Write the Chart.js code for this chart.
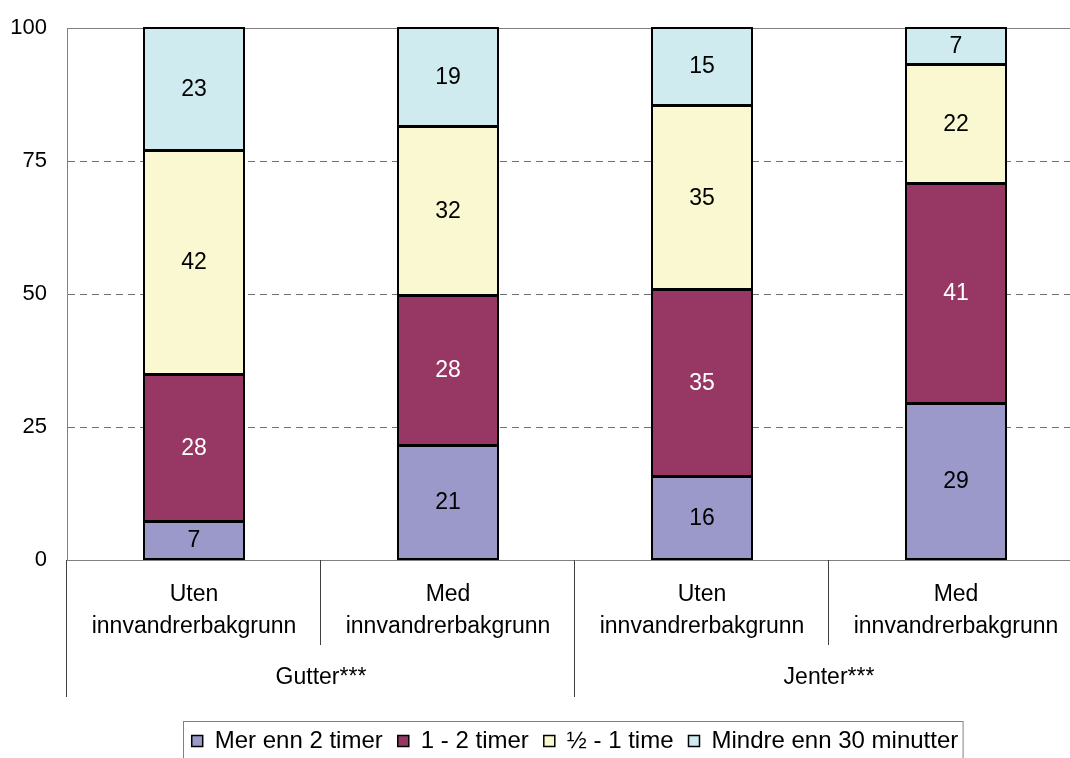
<!DOCTYPE html>
<html>
<head>
<meta charset="utf-8">
<script src="https://cdn.jsdelivr.net/npm/chart.js@4"></script>
<style>
body{margin:0;overflow:hidden;background:#fff;}
#wrap{width:1090px;height:763px;}
</style>
</head>
<body>
<div id="wrap"><canvas id="chart" width="1090" height="763"></canvas></div>
<script>
// data
const categories = [
    ["Uten","innvandrerbakgrunn"],
    ["Med","innvandrerbakgrunn"],
    ["Uten","innvandrerbakgrunn"],
    ["Med","innvandrerbakgrunn"]
];
const groups = ["Gutter***","Jenter***"];
const seriesNames = ["Mer enn 2 timer","1 - 2 timer","½ - 1 time","Mindre enn 30 minutter"];
const merEnn2 = [7.1, 21.4, 15.6, 29.4];
const enTilTo = [27.7, 28.3, 35.1, 41.2];
const halvTilEn = [42.0, 31.6, 34.6, 22.4];
const mindreEnn30 = [23.2, 18.7, 14.7, 7.0];
const yTicks = [0,25,50,75,100];

const colors = ["#9b99c9","#963863","#faf8d1","#cfebf0"];
const labelColors = ["#000","#fff","#000","#000"];
const values = [merEnn2, enTilTo, halvTilEn, mindreEnn30];

const FONT = "'Liberation Sans', Arial, sans-serif";
Chart.defaults.font.family = FONT;
Chart.defaults.font.size = 23;
Chart.defaults.color = "#000";

const extras = {
    id:"extras",
    beforeDatasetsDraw(chart){
        const ctx = chart.ctx, a = chart.chartArea;
        ctx.save();
        ctx.strokeStyle = "#808080";
        ctx.lineWidth = 1;
        ctx.beginPath();
        ctx.moveTo(a.left, Math.round(a.top) + 0.5);
        ctx.lineTo(a.right, Math.round(a.top) + 0.5);
        ctx.stroke();
        ctx.restore();
    },
    afterDatasetsDraw(chart){
        const ctx = chart.ctx;
        ctx.save();
        // crisp outlines round every segment
        ctx.strokeStyle = "#000";
        ctx.lineWidth = 2;
        chart.data.datasets.forEach((ds,i)=>{
            chart.getDatasetMeta(i).data.forEach(bar=>{
                const l = Math.round(bar.x - bar.width/2) + 1;
                const r = Math.round(bar.x + bar.width/2) - 1;
                const t = Math.round(bar.y);
                const b = Math.round(bar.base) - 1;
                ctx.strokeRect(l, t, r - l, b - t);
            });
        });
        ctx.font = "23px " + FONT;
        ctx.textAlign = "center";
        ctx.textBaseline = "middle";
        chart.data.datasets.forEach((ds,i)=>{
            chart.getDatasetMeta(i).data.forEach((bar,j)=>{
                ctx.fillStyle = labelColors[i];
                ctx.fillText(Math.round(ds.data[j]), bar.x, (bar.y + bar.base)/2);
            });
        });
        ctx.restore();
    },
    afterDraw(chart){
        const ctx = chart.ctx, a = chart.chartArea, x = chart.scales.x;
        const step = x.getPixelForValue(1) - x.getPixelForValue(0);
        ctx.save();
        // category separators
        ctx.strokeStyle = "#404040";
        ctx.lineWidth = 1;
        for(let i=0;i<=categories.length;i++){
            const px = Math.round(x.getPixelForValue(0) - step/2 + i*step) - 0.5;
            const outer = i % 2 == 0;
            ctx.beginPath();
            ctx.moveTo(px, a.bottom);
            ctx.lineTo(px, outer ? a.bottom + 137 : a.bottom + 85);
            ctx.stroke();
        }
        ctx.font = "23px " + FONT;
        ctx.fillStyle = "#000";
        ctx.textAlign = "center";
        ctx.textBaseline = "middle";
        categories.forEach((lines,i)=>{
            const px = x.getPixelForValue(i);
            lines.forEach((t,k)=>ctx.fillText(t, px, a.bottom + 35 + k*32));
        });
        groups.forEach((g,i)=>{
            const px = (x.getPixelForValue(i*2) + x.getPixelForValue(i*2+1))/2;
            ctx.fillText(g, px, a.bottom + 118);
        });
        // legend frame
        const boxes = chart.legend.legendHitBoxes;
        if(boxes && boxes.length){
            const l = Math.min(...boxes.map(b=>b.left));
            const r = Math.max(...boxes.map(b=>b.left + b.width));
            const c = boxes[0].top + boxes[0].height/2;
            ctx.strokeStyle = "#808080";
            ctx.strokeRect(Math.round(l - 9) + 0.5, Math.round(c - 20) + 0.5, r - l + 13, 60);
        }
        ctx.restore();
    }
};

new Chart(document.getElementById("chart"), {
    type:"bar",
    data:{
        labels:categories,
        datasets:values.map((v,i)=>({
            label:seriesNames[i],
            data:v,
            backgroundColor:colors[i],
            borderColor:"#000",
            borderWidth:0,
            barPercentage:0.4,
            categoryPercentage:1
        }))
    },
    options:{
        responsive:false,
        animation:false,
        layout:{padding:{top:28,right:7,left:0,bottom:0}},
        plugins:{
            tooltip:{enabled:false},
            legend:{
                position:"bottom",
                fullSize:false,
                labels:{
                    boxWidth:11,
                    boxHeight:11,
                    padding:15,
                    font:{size:24},
                    generateLabels(chart){
                        return Chart.defaults.plugins.legend.labels.generateLabels(chart)
                            .map(it=>({...it, lineWidth:1.5, strokeStyle:"#000"}));
                    }
                }
            }
        },
        scales:{
            x:{
                stacked:true,
                ticks:{display:false},
                grid:{display:false},
                border:{color:"#808080",width:1},
                afterFit:s=>{ s.height = 154; }
            },
            y:{
                stacked:true,
                min:0,
                max:100,
                afterBuildTicks:s=>{ s.ticks = yTicks.map(v=>({value:v})); },
                ticks:{padding:20,font:{size:22},color:"#000"},
                grid:{
                    drawTicks:false,
                    color:c=> (c.tick && (c.tick.value==0 || c.tick.value==100)) ? "rgba(0,0,0,0)" : "#707070"
                },
                border:{color:"#808080",width:1,dash:[7,5]},
                afterFit:s=>{ s.width = 67; s.paddingTop = 14; s.paddingBottom = 14; }
            }
        }
    },
    plugins:[extras]
});
</script>
</body>
</html>
